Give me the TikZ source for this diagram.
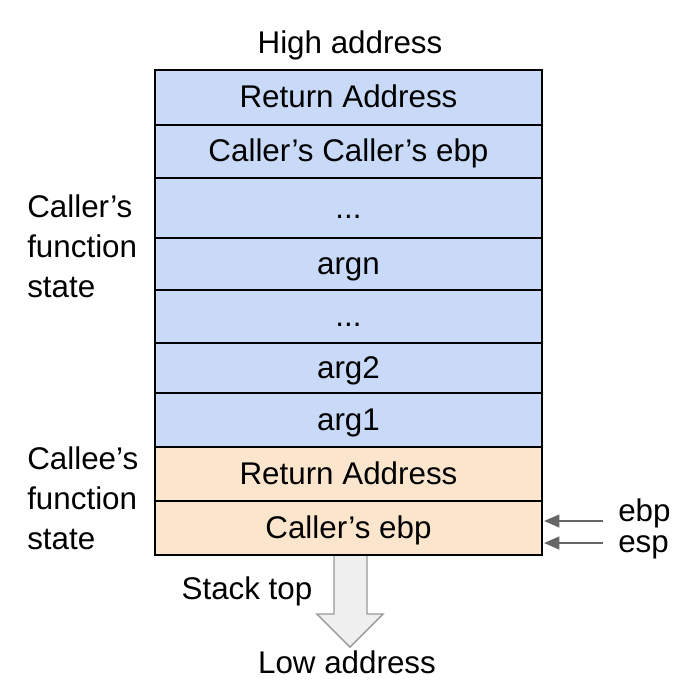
\documentclass[tikz,border=0pt]{standalone}
\usepackage{fontspec}
\setmainfont{Liberation Sans}
\usetikzlibrary{calc}
\usetikzlibrary{arrows.meta}

\definecolor{callerblue}{HTML}{C9DAF8}
\definecolor{calleeorange}{HTML}{FCE5CD}
\definecolor{pushgray}{HTML}{EFEFEF}

\tikzset{
  slot/.style={draw=black, line width=1.4pt},
  txt/.style={font=\fontsize{22.3}{27}\selectfont, inner sep=0pt},
  slottxt/.style={txt, text height=16pt, text depth=1.1pt},
  regarrow/.style={draw=black!60, line width=1.8pt, -{Triangle[length=11pt,width=9pt]}},
}

\begin{document}
\begin{tikzpicture}[x=0.025cm,y=-0.025cm]
\useasboundingbox (0,0) rectangle (680,699);

\draw[draw=black!40, fill=pushgray, line width=1pt] (334,555)--(334,614)--(317,614)--(350,647)--(383,614)--(367,614)--(367,555);

\draw[slot, fill=callerblue] (155,70) rectangle (542,125) node[midway,slottxt] (retcaller) {Return Address};
\draw[slot, fill=callerblue] (155,125) rectangle (542,178) node[midway,slottxt] (ccebp) {Caller’s Caller’s ebp};
\draw[slot, fill=callerblue] (155,178) rectangle (542,238) node[midway,slottxt] (dotsa) {...};
\draw[slot, fill=callerblue] (155,238) rectangle (542,290) node[midway,slottxt] (argn) {argn};
\draw[slot, fill=callerblue] (155,290) rectangle (542,343) node[midway,slottxt] (dotsb) {...};
\draw[slot, fill=callerblue] (155,343) rectangle (542,393) node[midway,slottxt] (argtwo) {arg2};
\draw[slot, fill=callerblue] (155,393) rectangle (542,447) node[midway,slottxt] (argone) {arg1};
\draw[slot, fill=calleeorange] (155,447) rectangle (542,501) node[midway,slottxt] (retcallee) {Return Address};
\draw[slot, fill=calleeorange] (155,501) rectangle (542,555) node[midway,slottxt] (callerebp) {Caller’s ebp};

\node[txt] (high) at (350,45) {High address};
\node[txt] (stacktop) at (247,591) {Stack top};
\node[txt] (low) at (347,662) {Low address};

\node[txt, anchor=west, align=left, text depth=0pt] (callerstate) at (27,246) {Caller’s\\[1.2pt]function\\[1.2pt]state};
\node[txt, anchor=west, align=left, text depth=0pt] (calleestate) at (27,498) {Callee’s\\[1.2pt]function\\[1.2pt]state};

\node[txt, anchor=west] (ebp) at (618,513) {ebp};
\node[txt, anchor=west] (esp) at (618,547) {esp};
\coordinate (ebpin) at (544,521);
\coordinate (espin) at (544,543);
\draw[regarrow] (603,521) -- (ebpin);
\draw[regarrow] (603,543) -- (espin);
\end{tikzpicture}
\end{document}
